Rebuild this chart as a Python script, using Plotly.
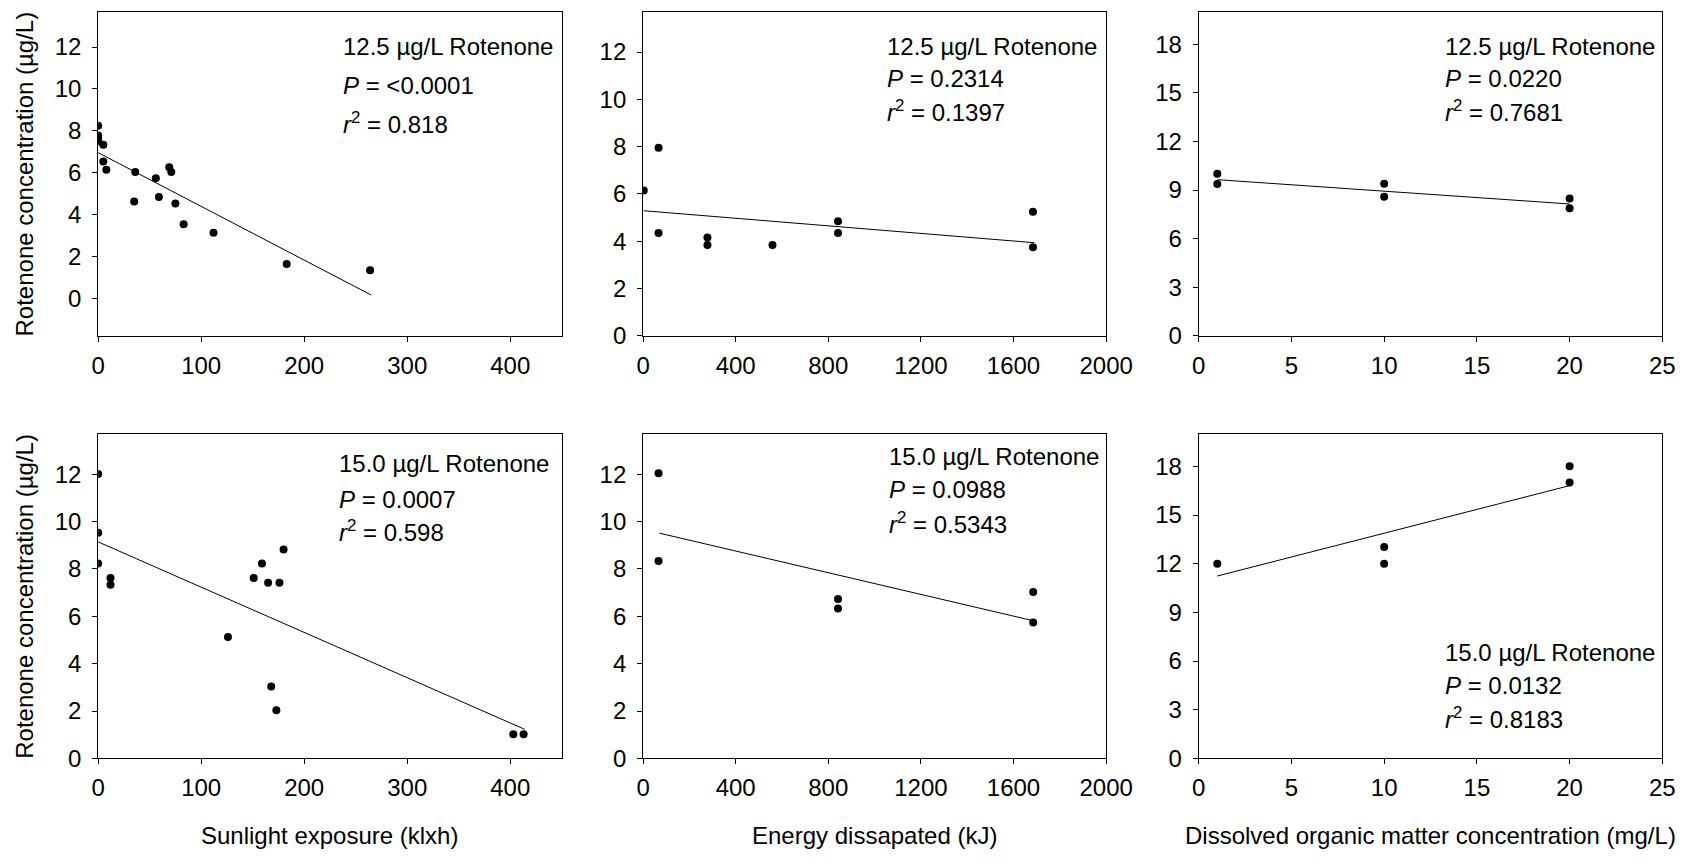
import plotly.graph_objects as go

# ---------------- data ----------------
sun125_x = [0, 0, 0, 0, 5, 5, 8, 36, 35, 56, 59, 69, 71, 75, 83, 112, 183, 264]
sun125_y = [8.25, 7.78, 7.62, 7.5, 7.34, 6.54, 6.15, 6.04, 4.63, 5.74, 4.85, 6.26, 6.04, 4.53, 3.55, 3.14, 1.65, 1.35]
sun125_fit_x = [0, 265]
sun125_fit_y = [6.96, 0.17]

en125_x = [3, 67, 67, 278, 278, 559, 842, 842, 1684, 1684]
en125_y = [6.15, 7.95, 4.35, 4.16, 3.84, 3.84, 4.85, 4.35, 5.25, 3.75]
en125_fit_x = [3, 1689]
en125_fit_y = [5.29, 3.94]

dom125_x = [1, 1, 10, 10, 20, 20]
dom125_y = [10.0, 9.37, 9.39, 8.58, 8.48, 7.88]
dom125_fit_x = [1, 20]
dom125_fit_y = [9.64, 8.14]

sun150_x = [0, 0, 0, 12, 12, 126, 151, 159, 165, 168, 173, 176, 180, 403, 413]
sun150_y = [12.01, 9.53, 8.23, 7.62, 7.33, 5.13, 7.62, 8.23, 7.42, 3.04, 2.03, 7.42, 8.82, 1.02, 1.02]
sun150_fit_x = [0, 414]
sun150_fit_y = [9.14, 1.23]

en150_x = [67, 67, 842, 842, 1685, 1685]
en150_y = [12.04, 8.33, 6.73, 6.33, 7.03, 5.74]
en150_fit_x = [70, 1686]
en150_fit_y = [9.51, 5.81]

dom150_x = [1, 10, 10, 20, 20]
dom150_y = [12.0, 13.03, 12.0, 18.0, 17.01]
dom150_fit_x = [1, 20]
dom150_fit_y = [11.24, 16.81]

labels_conc = ["12.5 µg/L Rotenone", "12.5 µg/L Rotenone", "12.5 µg/L Rotenone",
               "15.0 µg/L Rotenone", "15.0 µg/L Rotenone", "15.0 µg/L Rotenone"]
labels_p = ["&lt;0.0001", "0.2314", "0.0220", "0.0007", "0.0988", "0.0132"]
labels_r2 = ["0.818", "0.1397", "0.7681", "0.598", "0.5343", "0.8183"]

x_titles = ["Sunlight exposure (klxh)", "Energy dissapated (kJ)",
            "Dissolved organic matter concentration (mg/L)"]
y_title = "Rotenone concentration (µg/L)"

# ---------------- layout ----------------
W, H = 1705, 864
FONT = "Liberation Sans, Arial, sans-serif"
col_px = [(93, 566), (649, 1121.5), (1216, 1689)]
row_px = [(12, 341), (440.5, 770)]

panels = [
    (sun125_x, sun125_y, sun125_fit_x, sun125_fit_y, 0, 0, [0, 450], 100, [-1.78, 13.68], 2, 12),
    (en125_x, en125_y, en125_fit_x, en125_fit_y, 0, 1, [0, 2000], 400, [0, 13.7], 2, 12),
    (dom125_x, dom125_y, dom125_fit_x, dom125_fit_y, 0, 2, [0, 25], 5, [0, 20], 3, 18),
    (sun150_x, sun150_y, sun150_fit_x, sun150_fit_y, 1, 0, [0, 450], 100, [0, 13.7], 2, 12),
    (en150_x, en150_y, en150_fit_x, en150_fit_y, 1, 1, [0, 2000], 400, [0, 13.7], 2, 12),
    (dom150_x, dom150_y, dom150_fit_x, dom150_fit_y, 1, 2, [0, 25], 5, [0, 20], 3, 18),
]

# annotation anchor (left x px, line centre y px)
ann_pos = [
    (341, [47, 87, 125]),
    (896, [47, 80, 113]),
    (1465, [47, 80, 113]),
    (337, [471, 507, 539]),
    (898, [463, 497, 531]),
    (1465, [662, 696, 729]),
]

fig = go.Figure()
layout = dict(
    width=W, height=H,
    margin=dict(l=0, r=0, t=0, b=0, pad=0),
    paper_bgcolor="white", plot_bgcolor="white",
    showlegend=False,
    font=dict(family=FONT, color="black", size=24),
)
annotations = []

for i, (xs, ys, fx, fy, r, c, xr, dx, yr, dy, ymaxtick) in enumerate(panels):
    n = i + 1
    xa = "x" if n == 1 else f"x{n}"
    ya = "y" if n == 1 else f"y{n}"
    x0, x1 = col_px[c]
    y0, y1 = row_px[r]
    axis_common = dict(
        showgrid=False, zeroline=False, showline=True, linecolor="black",
        linewidth=1, mirror=True, ticks="outside", ticklen=5, tickwidth=1,
        tickcolor="black", tickfont=dict(family=FONT, size=24, color="black"),
    )
    layout["xaxis" if n == 1 else f"xaxis{n}"] = dict(
        axis_common, domain=[x0 / W, x1 / W], range=xr, tickmode="linear",
        tick0=0, dtick=dx, anchor=ya, ticklabelstandoff=3,
    )
    layout["yaxis" if n == 1 else f"yaxis{n}"] = dict(
        axis_common, domain=[1 - y1 / H, 1 - y0 / H], range=yr,
        tickmode="array", tickvals=list(range(0, ymaxtick + 1, dy)),
        anchor=xa, ticklabelstandoff=6,
    )
    fig.add_trace(go.Scatter(x=fx, y=fy, mode="lines", xaxis=xa, yaxis=ya,
                             line=dict(color="black", width=1), hoverinfo="skip"))
    fig.add_trace(go.Scatter(x=xs, y=ys, mode="markers", xaxis=xa, yaxis=ya,
                             marker=dict(color="black", size=8, line=dict(width=0))))

    ax, ay = ann_pos[i]
    texts = [labels_conc[i], f"<i>P</i> = {labels_p[i]}",
             f"<i>r</i><sup>2</sup> = {labels_r2[i]}"]
    for t, yy in zip(texts, ay):
        annotations.append(dict(
            text=t, xref="paper", yref="paper", x=ax / W, y=1 - yy / H,
            xanchor="left", yanchor="middle", showarrow=False,
            font=dict(family=FONT, size=24, color="black"),
        ))

# y-axis titles (left column)
for r in range(2):
    y0, y1 = row_px[r]
    annotations.append(dict(
        text=y_title, xref="paper", yref="paper", x=18 / W, y=1 - (y0 + y1) / 2 / H,
        xanchor="center", yanchor="middle", textangle=-90, showarrow=False,
        font=dict(family=FONT, size=24, color="black"),
    ))
# x-axis titles (bottom row)
for c in range(3):
    x0, x1 = col_px[c]
    annotations.append(dict(
        text=x_titles[c], xref="paper", yref="paper", x=(x0 + x1) / 2 / W, y=0,
        xanchor="center", yanchor="bottom", showarrow=False,
        font=dict(family=FONT, size=24, color="black"),
    ))

layout["annotations"] = annotations
fig.update_layout(**layout)
fig.write_html(
    "out.html",
    config={"displayModeBar": False},
    post_script="document.documentElement.style.margin='0';document.body.style.margin='0';"
                "document.body.style.overflow='hidden';",
)
